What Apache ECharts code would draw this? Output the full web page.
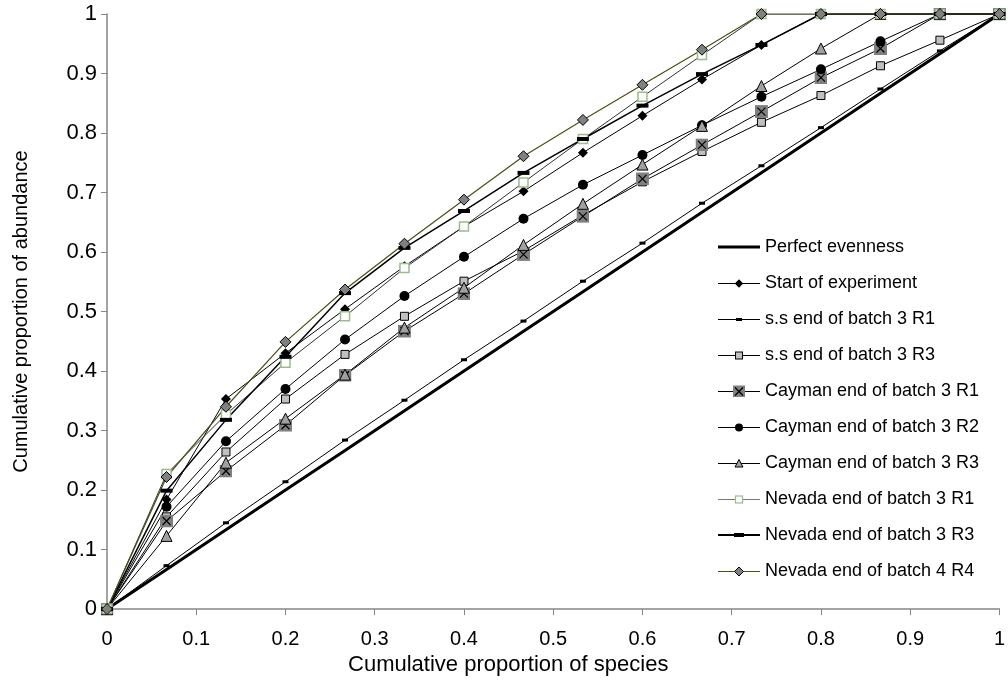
<!DOCTYPE html>
<html><head><meta charset="utf-8">
<script src="https://cdn.jsdelivr.net/npm/echarts@6/dist/echarts.min.js"></script>
<style>html,body{margin:0;padding:0;background:#fff}#c{width:1008px;height:681px}</style>
</head><body><div id="c"></div>
<script>
const species = [0, 0.0667, 0.1333, 0.2, 0.2667, 0.3333, 0.4, 0.4667, 0.5333, 0.6, 0.6667, 0.7333, 0.8, 0.8667, 0.9333, 1];
const perfect = [0, 0.0667, 0.1333, 0.2, 0.2667, 0.3333, 0.4, 0.4667, 0.5333, 0.6, 0.6667, 0.7333, 0.8, 0.8667, 0.9333, 1];
const start = [0, 0.184, 0.353, 0.430, 0.504, 0.576, 0.643, 0.702, 0.767, 0.829, 0.890, 0.948, 1, 1, 1, 1];
const ssR1 = [0, 0.073, 0.145, 0.214, 0.284, 0.351, 0.419, 0.484, 0.551, 0.615, 0.682, 0.745, 0.809, 0.874, 0.938, 1];
const ssR3 = [0, 0.155, 0.264, 0.353, 0.428, 0.492, 0.551, 0.602, 0.662, 0.718, 0.769, 0.818, 0.863, 0.913, 0.956, 1];
const caymanR1 = [0, 0.148, 0.232, 0.309, 0.393, 0.467, 0.530, 0.596, 0.660, 0.723, 0.780, 0.836, 0.893, 0.942, 1, 1];
const caymanR2 = [0, 0.172, 0.282, 0.370, 0.453, 0.526, 0.592, 0.656, 0.713, 0.763, 0.813, 0.861, 0.907, 0.954, 1, 1];
const caymanR3 = [0, 0.123, 0.246, 0.320, 0.394, 0.473, 0.540, 0.612, 0.681, 0.747, 0.812, 0.879, 0.942, 1, 1, 1];
const nevadaR1 = [0, 0.227, 0.327, 0.414, 0.492, 0.573, 0.643, 0.717, 0.790, 0.861, 0.931, 1, 1, 1, 1, 1];
const nevadaR3 = [0, 0.199, 0.318, 0.424, 0.531, 0.607, 0.669, 0.733, 0.790, 0.846, 0.899, 0.948, 1, 1, 1, 1];
const nevadaR4 = [0, 0.222, 0.340, 0.449, 0.537, 0.614, 0.688, 0.761, 0.822, 0.881, 0.940, 1, 1, 1, 1, 1];

const names = ['Perfect evenness','Start of experiment','s.s end of batch 3 R1','s.s end of batch 3 R3',
  'Cayman end of batch 3 R1','Cayman end of batch 3 R2','Cayman end of batch 3 R3',
  'Nevada end of batch 3 R1','Nevada end of batch 3 R3','Nevada end of batch 4 R4'];

function pts(ys){ return species.map((x,i)=>[x, ys[i]]); }
function img(w, h, inner){
  return 'image://data:image/svg+xml;charset=utf-8,' + encodeURIComponent(
    "<svg xmlns='http://www.w3.org/2000/svg' width='" + (w*2) + "' height='" + (h*2) + "' viewBox='0 0 " + w + " " + h + "'>" + inner + "</svg>");
}
const xSym = img(13, 13, "<rect width='13' height='13' fill='#808080'/><path d='M2.5 2.5L10.5 10.5M10.5 2.5L2.5 10.5' stroke='#000' stroke-width='1.2'/>");

function ln(color, w, y){ y = y || 6.5; return "<line x1='0' y1='" + y + "' x2='42' y2='" + y + "' stroke='" + color + "' stroke-width='" + w + "'/>"; }
const legendIcons = [
  img(42,12, ln('#000',3,6)),
  img(42,12, ln('#000',1) + "<path d='M21 2.3L25.2 6.5L21 10.7L16.8 6.5Z' fill='#000'/>"),
  img(42,12, ln('#000',1) + "<rect x='18' y='5' width='6' height='3' fill='#000'/>"),
  img(42,12, ln('#000',1) + "<rect x='17.5' y='3' width='7' height='7' fill='#c0c0c0' stroke='#000' stroke-width='1'/>"),
  img(42,12, ln('#000',1) + "<rect x='15' y='0.5' width='12' height='12' fill='#808080'/><path d='M17 2.5L25 10.5M25 2.5L17 10.5' stroke='#000' stroke-width='1.2'/>"),
  img(42,12, ln('#000',1) + "<circle cx='21' cy='6.5' r='4' fill='#000'/>"),
  img(42,12, ln('#000',1) + "<path d='M21 2.5L25 10L17 10Z' fill='#a0a0a0' stroke='#000' stroke-width='1'/>"),
  img(42,12, ln('#777',1) + "<rect x='17.5' y='3' width='7' height='7' fill='#fff' stroke='#9cbc8c' stroke-width='1.2'/>"),
  img(42,12, ln('#000',2,6) + "<rect x='16' y='4' width='10' height='4' fill='#000'/>"),
  img(42,12, ln('#4d4d14',1) + "<path d='M21 2L25.5 6.5L21 11L16.5 6.5Z' fill='#808080' stroke='#000' stroke-width='1'/>")
];

function ser(name, ys, o){
  return Object.assign({
    name, type:'line', data: pts(ys), animation:false, silent:true,
    lineStyle:{color:'#000', width:1}, itemStyle:{color:'#000'}, symbol:'none'
  }, o);
}
const series = [
  ser(names[0], perfect, {lineStyle:{color:'#000', width:3}, symbol:'none'}),
  ser(names[1], start, {symbol:'diamond', symbolSize:10, itemStyle:{color:'#000'}}),
  ser(names[2], ssR1, {symbol:'rect', symbolSize:[6,3], itemStyle:{color:'#000'}}),
  ser(names[3], ssR3, {symbol:'rect', symbolSize:8, itemStyle:{color:'#c0c0c0', borderColor:'#000', borderWidth:1}}),
  ser(names[4], caymanR1, {symbol:xSym, symbolSize:13, itemStyle:{color:'#808080'}}),
  ser(names[5], caymanR2, {symbol:'circle', symbolSize:10, itemStyle:{color:'#000'}}),
  ser(names[6], caymanR3, {symbol:'triangle', symbolSize:11, itemStyle:{color:'#a0a0a0', borderColor:'#000', borderWidth:1}}),
  ser(names[7], nevadaR1, {symbol:'rect', symbolSize:9, lineStyle:{color:'#333', width:1}, itemStyle:{color:'#fff', borderColor:'#9cbc8c', borderWidth:1.5}}),
  ser(names[8], nevadaR3, {symbol:'rect', symbolSize:[12,4], lineStyle:{color:'#000', width:1.5}, itemStyle:{color:'#000'}}),
  ser(names[9], nevadaR4, {symbol:'diamond', symbolSize:11, lineStyle:{color:'#4d4d14', width:1.2}, itemStyle:{color:'#808080', borderColor:'#000', borderWidth:1}})
];

const font = 'Liberation Sans, Arial, sans-serif';
const chart = echarts.init(document.getElementById('c'), null, {renderer:'canvas'});
chart.setOption({
  backgroundColor:'#fff',
  animation:false,
  grid:{left:107, right:4, top:14, bottom:71, containLabel:false},
  legend:{
    orient:'vertical', left:718, top:238, padding:0, itemWidth:42, itemHeight:12, itemGap:18,
    data: names.map((n,i)=>({name:n, icon:legendIcons[i]})),
    selectedMode:false,
    textStyle:{fontFamily:font, fontSize:18, color:'#000', lineHeight:18}
  },
  xAxis:{
    type:'value', min:0, max:1, interval:0.1,
    name:'Cumulative proportion of species', nameLocation:'middle', nameGap:42,
    nameTextStyle:{fontFamily:font, fontSize:22, color:'#000', padding:[0,90,0,0]},
    axisLine:{show:true, lineStyle:{color:'#868686', width:1.5}},
    axisTick:{show:true, length:6, inside:false, lineStyle:{color:'#868686'}},
    axisLabel:{fontFamily:font, fontSize:20, color:'#000', margin:20},
    splitLine:{show:false}
  },
  yAxis:{
    type:'value', min:0, max:1, interval:0.1,
    name:'Cumulative proportion of abundance', nameLocation:'middle', nameGap:76,
    nameTextStyle:{fontFamily:font, fontSize:20, color:'#000'},
    axisLine:{show:true, lineStyle:{color:'#868686', width:1.5}},
    axisTick:{show:true, length:6, inside:false, lineStyle:{color:'#868686'}},
    axisLabel:{fontFamily:font, fontSize:22, color:'#000', margin:10},
    splitLine:{show:false}
  },
  series
});
</script></body></html>
